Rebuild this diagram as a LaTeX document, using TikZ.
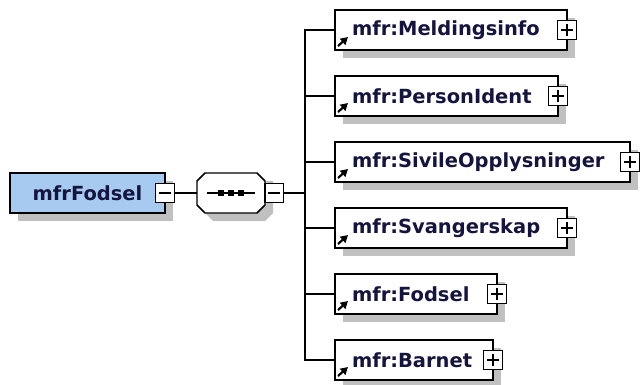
\documentclass[tikz,border=0pt]{standalone}
\usepackage{fontspec}
\setmainfont{DejaVu Sans}
\usetikzlibrary{arrows.meta,positioning,calc,shadows}
\definecolor{RootFill}{HTML}{A6CAF0}
\definecolor{Shade}{HTML}{C0C0C0}
\definecolor{NameInk}{HTML}{14143F}

\begin{document}
\begin{tikzpicture}[x=0.75pt,y=-0.75pt,
  every node/.style={inner sep=0pt,outer sep=0pt},
  wire/.style={line width=0.9pt},
  shade/.style={drop shadow={shadow xshift=6pt,shadow yshift=-6pt,fill=Shade,opacity=1}},
  rootbox/.style={draw,line width=1.1pt,fill=RootFill,shade,minimum width=116pt,minimum height=30pt,
    font=\bfseries\fontsize{14.6}{16}\selectfont,text=NameInk},
  childbox/.style={draw,line width=1.1pt,fill=white,shade,minimum height=30pt,anchor=west},
  childname/.style={anchor=west,font=\bfseries\fontsize{14.6}{16}\selectfont,text=NameInk},
  togglebox/.style={draw,line width=0.9pt,fill=white,minimum size=14pt},
  seqbox/.style={minimum width=51pt,minimum height=30pt},
  dot/.style={fill,minimum size=3.8pt}]
  \useasboundingbox (0,0) rectangle (642,385);

  % root element and sequence
  \node[rootbox] (root) at (87.5,193) {mfrFodsel};
  \node[togglebox] (rootminus) at (root.east) {};
  \draw[wire] ($(rootminus.center)+(-6,0)$) -- ($(rootminus.center)+(6,0)$);
  \node[seqbox] (seq) at (231,193) {};
  \fill[Shade] ($(seq.north west)+(16,8)$) -- ($(seq.north east)+(0,8)$) -- ($(seq.east)+(8,-12)$)
    -- ($(seq.south east)+(8,0)$) -- ($(seq.south east)+(0,8)$) -- ($(seq.south west)+(16,8)$)
    -- ($(seq.south west)+(8,0)$) -- ($(seq.west)+(8,-12)$) -- cycle;
  \draw[line width=1.1pt,fill=white] ($(seq.north west)+(8,0)$) -- ($(seq.north east)+(-8,0)$)
    -- ($(seq.north east)+(0,8)$) -- ($(seq.south east)+(0,-8)$) -- ($(seq.south east)+(-8,0)$)
    -- ($(seq.south west)+(8,0)$) -- ($(seq.south west)+(0,-8)$) -- ($(seq.north west)+(0,8)$) -- cycle;
  \draw[wire] ($(seq.center)+(-24,0)$) -- ($(seq.center)+(24,0)$);
  \foreach \d in {-10,0,10}
    \node[dot] at ($(seq.center)+(\d,0)$) {};
  \node[togglebox,anchor=west] (seqminus) at (seq.east) {};
  \draw[wire] ($(seqminus.center)+(-6,0)$) -- ($(seqminus.center)+(6,0)$);
  \draw[wire] (rootminus.east) -- (seq.west);
  \coordinate (bus) at (305,193);
  \draw[wire] (seqminus.east) -- (bus);

  % child elements
  \foreach \i/\lbl/\w in {1/Meldingsinfo/232,2/PersonIdent/223,3/SivileOpplysninger/295,
                          4/Svangerskap/232,5/Fodsel/162,6/Barnet/158}{
    \pgfmathsetmacro\cy{30+66*(\i-1)}
    \node[childbox,minimum width=\w*0.75pt] (c\i) at (335,\cy) {};
    \node[childname] (t\i) at (352,\cy) {mfr:\lbl};
    \node[togglebox] (p\i) at (c\i.east) {};
    \draw[wire] ($(p\i.center)+(-6,0)$) -- ($(p\i.center)+(6,0)$)
                ($(p\i.center)+(0,-6)$) -- ($(p\i.center)+(0,6)$);
    \draw[line width=1.6pt,-{Triangle[length=5.5pt,width=6pt]}]
      ($(c\i.south west)+(3,-4)$) -- ($(c\i.south west)+(13,-13)$);
    \draw[wire] (bus) |- (c\i.west);
  }
\end{tikzpicture}
\end{document}
